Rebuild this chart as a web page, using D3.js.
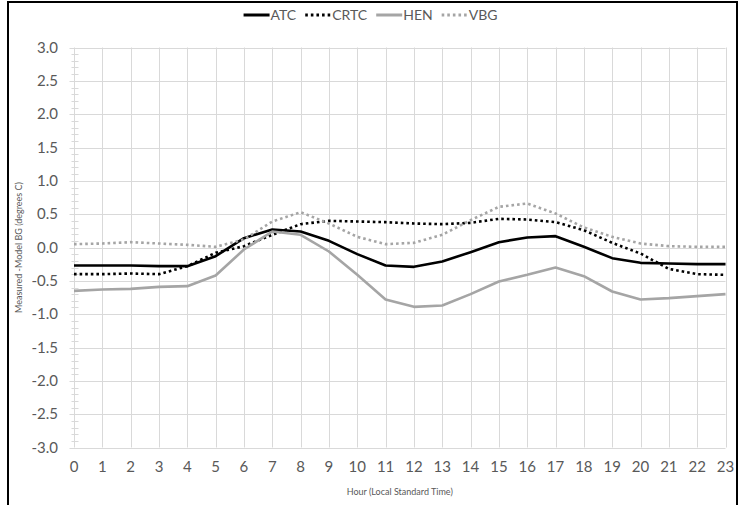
<!DOCTYPE html>
<html>
<head>
<meta charset="utf-8">
<script src="https://cdn.jsdelivr.net/npm/d3@7"></script>
<style>
  body { margin: 0; background: #fff; }
  svg { display: block; font-family: Lato, "Open Sans", sans-serif; }
</style>
</head>
<body>
<div id="chart"></div>
<script>
const hours = d3.range(0, 24);
const atc  = [-0.27,-0.27,-0.27,-0.28,-0.28,-0.13,0.14,0.27,0.24,0.10,-0.10,-0.27,-0.29,-0.21,-0.07,0.08,0.15,0.17,0.01,-0.16,-0.23,-0.24,-0.25,-0.25];
const crtc = [-0.40,-0.40,-0.39,-0.40,-0.28,-0.08,0.02,0.19,0.35,0.40,0.39,0.38,0.36,0.35,0.37,0.43,0.42,0.38,0.26,0.07,-0.09,-0.32,-0.40,-0.41];
const hen  = [-0.65,-0.63,-0.62,-0.59,-0.58,-0.42,-0.03,0.24,0.19,-0.06,-0.41,-0.78,-0.89,-0.87,-0.70,-0.51,-0.41,-0.30,-0.43,-0.66,-0.78,-0.76,-0.73,-0.70];
const vbg  = [0.05,0.06,0.08,0.06,0.04,0.01,0.12,0.39,0.53,0.36,0.16,0.05,0.07,0.19,0.41,0.61,0.66,0.51,0.30,0.16,0.06,0.02,0.01,0.01];
const yTicks = d3.range(-3, 3.01, 0.5);

const series = [
  { name: "ATC",  values: atc,  color: "#000000", dash: null },
  { name: "CRTC", values: crtc, color: "#000000", dash: "2.6,3" },
  { name: "HEN",  values: hen,  color: "#a5a5a5", dash: null },
  { name: "VBG",  values: vbg,  color: "#a5a5a5", dash: "2.6,3" }
];

const W = 741, H = 505;
const svg = d3.select("#chart").append("svg").attr("width", W).attr("height", H);

// frame
svg.append("rect").attr("x", 8).attr("y", 2).attr("width", 729).attr("height", 520)
  .attr("fill", "none").attr("stroke", "#000").attr("stroke-width", 2);

const x = d3.scaleLinear().domain([0, 23]).range([74, 725.5]);
const y = d3.scaleLinear().domain([-3, 3]).range([447.5, 47.5]);

// grid
svg.append("g").selectAll("line").data(yTicks).enter().append("line")
  .attr("x1", x(0)).attr("x2", x(23))
  .attr("y1", d => Math.round(y(d)) + 0.5).attr("y2", d => Math.round(y(d)) + 0.5)
  .attr("stroke", "#d9d9d9").attr("stroke-width", 1);
svg.append("g").selectAll("line").data(hours.slice(1)).enter().append("line")
  .attr("x1", d => Math.round(x(d)) + 0.5).attr("x2", d => Math.round(x(d)) + 0.5)
  .attr("y1", y(3)).attr("y2", y(-3))
  .attr("stroke", "#d9d9d9").attr("stroke-width", 1);

// y axis with minor ticks
const ax = Math.round(x(0)) + 0.5;
svg.append("line").attr("x1", ax).attr("x2", ax).attr("y1", y(3)).attr("y2", y(-3))
  .attr("stroke", "#d9d9d9");
svg.append("g").selectAll("line").data(d3.range(-30, 31)).enter().append("line")
  .attr("x1", d => d % 5 === 0 ? ax - 5 : ax - 3).attr("x2", ax + 4)
  .attr("y1", d => Math.round(y(d / 10)) + 0.5).attr("y2", d => Math.round(y(d / 10)) + 0.5)
  .attr("stroke", "#d9d9d9");

svg.append("g").selectAll("text").data(yTicks).enter().append("text")
  .attr("x", 58).attr("y", d => y(d) + 5)
  .attr("text-anchor", "end").attr("font-size", 15).attr("fill", "#595959")
  .text(d => d3.format(".1f")(d).replace("−", "-"));

svg.append("g").selectAll("text").data(hours).enter().append("text")
  .attr("x", d => x(d)).attr("y", 472)
  .attr("text-anchor", "middle").attr("font-size", 15).attr("fill", "#595959")
  .text(d => d);

// axis titles
svg.append("text").attr("x", (x(0) + x(23)) / 2).attr("y", 495)
  .attr("text-anchor", "middle").attr("font-size", 9).attr("fill", "#595959")
  .text("Hour (Local Standard Time)");
svg.append("text").attr("transform", `translate(22,${y(0)}) rotate(-90)`)
  .attr("text-anchor", "middle").attr("font-size", 9).attr("fill", "#595959")
  .text("Measured -Model BG (degrees C)");

// lines
const line = d3.line().x((d, i) => x(hours[i])).y(d => y(d));
series.forEach(s => {
  svg.append("path").datum(s.values)
    .attr("d", line).attr("fill", "none")
    .attr("stroke", s.color).attr("stroke-width", 2.6)
    .attr("stroke-linejoin", "round")
    .attr("stroke-dasharray", s.dash);
});

// legend
const legend = svg.append("g");
let lx = 0;
series.forEach(s => {
  const g = legend.append("g");
  g.append("line").attr("x1", 0).attr("x2", 26).attr("y1", 0).attr("y2", 0)
    .attr("stroke", s.color).attr("stroke-width", 3).attr("stroke-dasharray", s.dash);
  const t = g.append("text").attr("x", 27).attr("y", 5).attr("font-size", 14)
    .attr("fill", "#595959").text(s.name);
  const w = 27 + t.node().getComputedTextLength();
  g.attr("transform", `translate(${lx},0)`);
  lx += w + 9;
});
legend.attr("transform", `translate(${(W - (lx - 9)) / 2},15)`);
</script>
</body>
</html>
